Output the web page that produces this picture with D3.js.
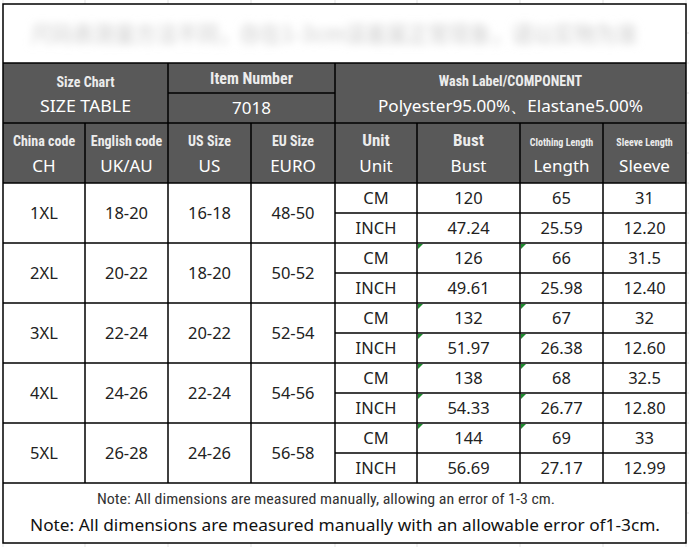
<!DOCTYPE html>
<html>
<head>
<meta charset="utf-8">
<script src="https://cdn.jsdelivr.net/npm/d3@7"></script>
<style>
  body { margin: 0; background: #fff; }
  svg { display: block; }
</style>
</head>
<body>
<svg width="689" height="547"></svg>
<script>
// size chart data
var chinaCodes = ["1XL", "2XL", "3XL", "4XL", "5XL"];
var ukSizes = ["18-20", "20-22", "22-24", "24-26", "26-28"];
var usSizes = ["16-18", "18-20", "20-22", "22-24", "24-26"];
var euSizes = ["48-50", "50-52", "52-54", "54-56", "56-58"];
var units = ["CM", "INCH"];
var bustCm = ["120", "126", "132", "138", "144"];
var bustInch = ["47.24", "49.61", "51.97", "54.33", "56.69"];
var lengthCm = ["65", "66", "67", "68", "69"];
var lengthInch = ["25.59", "25.98", "26.38", "26.77", "27.17"];
var sleeveCm = ["31", "31.5", "32", "32.5", "33"];
var sleeveInch = ["12.20", "12.40", "12.60", "12.80", "12.99"];

var colKeys = ["ch", "uk", "us", "eu", "unit", "bust", "length", "sleeve"];
var colTitles = ["China code", "English code", "US Size", "EU Size", "Unit", "Bust", "Clothing Length", "Sleeve Length"];
var colSubtitles = ["CH", "UK/AU", "US", "EURO", "Unit", "Bust", "Length", "Sleeve"];
// sub-rows (0 = 1XL CM) whose Bust / Length cells carry the little green flag
var flaggedRows = [2, 4, 5, 6, 7, 8];

var titleText = "尺码表测量方法不同，存在1-3cm误差属正常现象，请以实物为准";
var noteSmall = "Note: All dimensions are measured manually, allowing an error of 1-3 cm.";
var noteBig = "Note: All dimensions are measured manually with an allowable error of1-3cm.";

// layout
var colEdges = [3, 85, 168, 251, 335, 417, 520, 603, 686];
var tableTop = 4, headTop = 63, head2Top = 123, bodyTop = 183, bodyBottom = 483, tableBottom = 543;
var dark = "#595959";
var narrow = "'Liberation Sans Narrow', 'Roboto Condensed', Roboto, sans-serif";
var regular = "'Noto Sans', 'Open Sans', sans-serif";

var svg = d3.select("svg");

var x = d3.scaleOrdinal().domain(colKeys).range(colEdges.slice(0, 8));
var colW = d3.scaleOrdinal().domain(colKeys).range(d3.range(8).map(function(i) { return colEdges[i + 1] - colEdges[i]; }));
var xc = function(k) { return x(k) + colW(k) / 2; };

var y = d3.scaleLinear().domain([0, 10]).range([bodyTop, bodyBottom]);

// faint spreadsheet grid outside the table
var faint = svg.append("g").attr("stroke", "#e3e3e3").attr("stroke-width", 1);
colEdges.forEach(function(e) {
  faint.append("line").attr("x1", e).attr("x2", e).attr("y1", 0).attr("y2", tableTop);
  faint.append("line").attr("x1", e).attr("x2", e).attr("y1", tableBottom).attr("y2", 547);
});
d3.range(0, 11).forEach(function(i) {
  faint.append("line").attr("x1", 687).attr("x2", 689).attr("y1", y(i)).attr("y2", y(i));
});
[33, 63, 93, 123, 153, 513].forEach(function(v) {
  faint.append("line").attr("x1", 687).attr("x2", 689).attr("y1", v).attr("y2", v);
});

// blurred title
var defs = svg.append("defs");
defs.append("filter").attr("id", "blur")
  .attr("x", "-10%").attr("y", "-80%").attr("width", "120%").attr("height", "260%")
  .append("feGaussianBlur").attr("stdDeviation", 4);

svg.append("text")
  .attr("x", 334).attr("y", 42)
  .attr("text-anchor", "middle")
  .attr("font-family", "'Noto Sans CJK SC', sans-serif")
  .attr("font-size", "22px")
  .attr("font-weight", "bold")
  .attr("textLength", 606)
  .attr("lengthAdjust", "spacingAndGlyphs")
  .attr("fill", "#dcdcdc")
  .attr("filter", "url(#blur)")
  .text(titleText);

// dark header background
svg.append("rect")
  .attr("x", colEdges[0]).attr("y", headTop)
  .attr("width", colEdges[8] - colEdges[0]).attr("height", bodyTop - headTop)
  .attr("fill", dark);

function headText(cx, cy, txt, size, font, weight, fill, len) {
  var t = svg.append("text")
    .attr("x", cx).attr("y", cy)
    .attr("text-anchor", "middle")
    .attr("font-family", font)
    .attr("font-size", size + "px")
    .attr("font-weight", weight)
    .attr("fill", fill)
    .text(txt);
  if (len) t.attr("textLength", len).attr("lengthAdjust", "spacingAndGlyphs");
}

// header row 1
headText((colEdges[0] + colEdges[2]) / 2, 87, "Size Chart", 14, narrow, "bold", "#ececec");
headText((colEdges[0] + colEdges[2]) / 2, 112, "SIZE TABLE", 17, regular, "normal", "#fff", 91);
headText((colEdges[2] + colEdges[4]) / 2, 84, "Item Number", 16, narrow, "bold", "#ececec");
headText((colEdges[2] + colEdges[4]) / 2, 114, "7018", 17, regular, "normal", "#fff");
headText((colEdges[4] + colEdges[8]) / 2, 86, "Wash Label/COMPONENT", 14, narrow, "bold", "#ececec");
headText((colEdges[4] + colEdges[8]) / 2, 112, "Polyester95.00%、Elastane5.00%", 17, regular, "normal", "#fff", 265);

// header row 2
colKeys.forEach(function(k, i) {
  var small = colTitles[i].length > 10 && i > 5;
  var big = (k === "unit" || k === "bust");
  headText(xc(k), 146, colTitles[i], small ? 10 : (big ? 17 : 14), narrow, "bold", "#ececec");
  headText(xc(k), 172, colSubtitles[i], 17, regular, "normal", "#fff");
});

// body text
var body = svg.append("g")
  .attr("font-family", regular)
  .attr("font-size", "16.5px")
  .attr("fill", "#222")
  .attr("text-anchor", "middle");

function mergedCol(k, values) {
  body.selectAll(null).data(values).enter().append("text")
    .attr("x", xc(k))
    .attr("y", function(d, i) { return y(2 * i + 1) + 6; })
    .text(function(d) { return d; });
}
mergedCol("ch", chinaCodes);
mergedCol("uk", ukSizes);
mergedCol("us", usSizes);
mergedCol("eu", euSizes);

function splitCol(k, cm, inch) {
  var vals = [];
  cm.forEach(function(v, i) { vals.push(v); vals.push(inch[i]); });
  body.selectAll(null).data(vals).enter().append("text")
    .attr("x", xc(k))
    .attr("y", function(d, i) { return y(i + 0.5) + 6; })
    .text(function(d) { return d; });
}
splitCol("unit", chinaCodes.map(function() { return units[0]; }), chinaCodes.map(function() { return units[1]; }));
splitCol("bust", bustCm, bustInch);
splitCol("length", lengthCm, lengthInch);
splitCol("sleeve", sleeveCm, sleeveInch);

// green flags
["bust", "length"].forEach(function(k) {
  svg.selectAll(null).data(flaggedRows).enter().append("path")
    .attr("d", function(r) {
      var x0 = x(k) + 1, y0 = y(r) + 1;
      return "M" + x0 + "," + y0 + "h5l-5,5z";
    })
    .attr("fill", "#1e8a2e");
});

// notes
headText(326, 504, noteSmall, 14, narrow, "normal", "#333", 458);
headText(345, 531, noteBig, 17, regular, "normal", "#111", 630);

// grid lines
var grid = svg.append("g").attr("stroke", "#000").attr("stroke-width", 1.5).attr("fill", "none");
function hline(x1, x2, yy) { grid.append("line").attr("x1", x1).attr("x2", x2).attr("y1", yy).attr("y2", yy); }
function vline(xx, y1, y2) { grid.append("line").attr("x1", xx).attr("x2", xx).attr("y1", y1).attr("y2", y2); }

grid.append("rect")
  .attr("x", colEdges[0]).attr("y", tableTop)
  .attr("width", colEdges[8] - colEdges[0]).attr("height", tableBottom - tableTop);
hline(colEdges[0], colEdges[8], headTop);
hline(colEdges[2], colEdges[4], 93);
hline(colEdges[0], colEdges[8], head2Top);
vline(colEdges[2], headTop, head2Top);
vline(colEdges[4], headTop, head2Top);
colEdges.slice(1, 8).forEach(function(e) { vline(e, head2Top, bodyBottom); });
d3.range(0, 11).forEach(function(i) {
  if (i % 2 === 0) hline(colEdges[0], colEdges[8], y(i));
  else hline(colEdges[4], colEdges[8], y(i));
});
</script>
</body>
</html>
